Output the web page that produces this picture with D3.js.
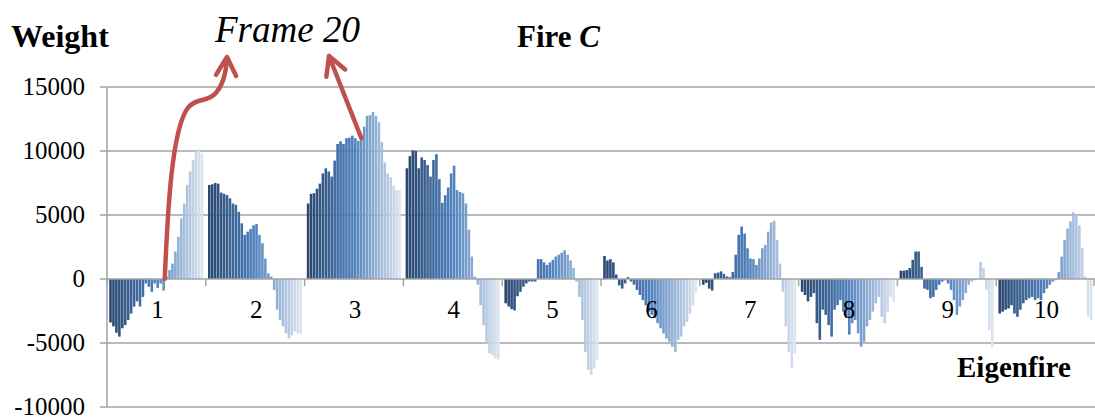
<!DOCTYPE html>
<html>
<head>
<meta charset="utf-8">
<script src="https://cdn.jsdelivr.net/npm/d3@7"></script>
<style>
  html, body { margin: 0; padding: 0; background: #fff; }
  svg { display: block; }
  text { font-family: "Liberation Serif", "Times New Roman", serif; fill: #000; }
</style>
</head>
<body>
<svg id="chart" width="1095" height="418"></svg>
<script>
// Eigenfire categories and tick values
const categories = ["1", "2", "3", "4", "5", "6", "7", "8", "9", "10"];
const yTicks = [-10000, -5000, 0, 5000, 10000, 15000];
const frameCount = 32;

// Weight of every frame (1..32) for each eigenfire
const eig1 = [-3400,-3700,-4200,-4500,-3850,-3600,-3200,-2700,-2150,-1750,-2150,-1400,-350,-600,-1000,-350,-700,-350,-900,200,700,1200,2150,3300,4750,5900,7350,8400,9300,9950,10150,9800];
const eig2 = [7350,7400,7500,7450,6750,6650,6550,6300,5900,5800,5250,4350,3450,3700,3900,4200,4300,3450,2800,1600,450,200,-850,-2400,-3200,-3700,-4250,-4650,-4400,-4100,-4250,-4300];
const eig3 = [5900,6650,6700,7050,7450,8250,8650,8400,8000,9250,10550,10750,10550,11000,11050,11200,11000,10800,11000,11900,12750,12800,13050,12750,12250,10700,9100,8250,7950,7300,6950,6950];
const eig4 = [8650,9600,10050,10000,8650,9500,9300,8900,8000,9300,9750,7800,5950,6550,7150,8250,8850,6950,6800,6700,5900,3850,1750,200,-450,-2050,-3600,-5000,-5800,-5950,-6200,-6300];
const eig5 = [-1900,-2150,-2350,-2450,-1350,-1000,-600,-350,-200,-200,-200,1550,1550,1300,1100,1300,1500,1750,1900,2050,2250,1900,1450,850,-200,-1400,-3200,-5700,-7100,-7500,-7000,-6300];
const eig6 = [1800,1450,1550,1300,350,-500,-750,-350,150,-200,-450,-850,-1250,-1650,-2050,-2550,-2800,-3050,-3450,-3850,-4250,-4650,-4900,-5300,-5700,-4750,-4500,-3700,-3350,-2700,-2050,-1100];
const eig7 = [-450,-300,-750,-900,450,500,600,400,200,150,550,1900,3450,4100,3550,2400,1600,1550,1100,1600,2400,2650,3700,4400,4550,3050,1200,-1000,-3700,-5700,-7000,-5800];
const eig8 = [-1000,-1250,-1750,-1400,-1100,-3450,-4750,-2400,-2800,-3600,-4500,-2400,-2050,-1650,-2550,-3050,-4350,-3450,-3200,-4250,-5300,-4900,-3700,-3200,-2550,-1900,-1400,-2950,-3450,-2550,-1400,-1800];
const eig9 = [650,650,700,850,1500,2150,2150,950,-750,-850,-1500,-1400,-850,-450,-200,-100,-350,-850,-1650,-2800,-2150,-1650,-1100,-450,-200,-100,50,1350,850,-850,-4000,-5300];
const eig10 = [-2700,-2550,-2400,-2300,-2050,-2700,-2950,-2400,-1900,-1650,-1500,-1400,-1650,-1500,-1650,-1100,-750,-450,-200,-100,550,1750,3050,3950,4500,5200,5000,4200,2400,200,-2950,-3200];

const weights = [eig1, eig2, eig3, eig4, eig5, eig6, eig7, eig8, eig9, eig10];
const frames = d3.range(frameCount);

const svg = d3.select("#chart");
const plot = { left: 107, right: 1095, top: 87, bottom: 407 };

const x0 = d3.scaleBand().domain(categories).range([plot.left, plot.right]).padding(0);
const x1 = d3.scaleBand().domain(frames).range([0, x0.bandwidth()]).paddingOuter(0.75).paddingInner(0);
const y = d3.scaleLinear().domain([-10000, 15000]).range([plot.bottom, plot.top]);

// Frame colours run from dark navy through the mid blue to a pale tint
const colour = d3.piecewise(d3.interpolateRgb, ["#2a4870", "#4f81bd", "#dce4f0"]);
const frameColour = i => colour(i / (frameCount - 1));

const gridColour = "#a3a3a3";

// Horizontal gridlines with outward tick marks on the value axis
svg.append("g")
  .selectAll("line")
  .data(yTicks.filter(t => t !== 0))
  .join("line")
  .attr("x1", plot.left - 7)
  .attr("x2", plot.right)
  .attr("y1", d => y(d))
  .attr("y2", d => y(d))
  .attr("stroke", gridColour)
  .attr("stroke-width", 1.5);

// Bars
const groups = svg.append("g")
  .selectAll("g")
  .data(categories.map((c, i) => ({ cat: c, values: weights[i] })))
  .join("g")
  .attr("transform", d => `translate(${x0(d.cat)},0)`);

groups.selectAll("rect")
  .data(d => d.values.map((v, i) => ({ i, v })))
  .join("rect")
  .attr("x", d => x1(d.i))
  .attr("width", x1.bandwidth() - 0.35)
  .attr("y", d => y(Math.max(0, d.v)))
  .attr("height", d => Math.abs(y(d.v) - y(0)))
  .attr("fill", d => frameColour(d.i));

// Value axis line
svg.append("line")
  .attr("x1", plot.left).attr("x2", plot.left)
  .attr("y1", plot.top).attr("y2", plot.bottom)
  .attr("stroke", gridColour).attr("stroke-width", 1.5);

// Category axis sits on zero, with ticks at the group boundaries
svg.append("line")
  .attr("x1", plot.left - 7).attr("x2", plot.right)
  .attr("y1", y(0)).attr("y2", y(0))
  .attr("stroke", gridColour).attr("stroke-width", 1.5);

svg.append("g")
  .selectAll("line")
  .data(categories.map(c => x0(c)).concat([plot.right - 1]))
  .join("line")
  .attr("x1", d => d).attr("x2", d => d)
  .attr("y1", y(0)).attr("y2", y(0) + 7)
  .attr("stroke", gridColour).attr("stroke-width", 1.5);

// Value tick labels
svg.append("g")
  .selectAll("text")
  .data(yTicks)
  .join("text")
  .attr("x", 85)
  .attr("y", d => y(d) + 8)
  .attr("text-anchor", "end")
  .attr("font-size", 25)
  .text(d => d);

// Category labels just below the zero line
svg.append("g")
  .selectAll("text")
  .data(categories)
  .join("text")
  .attr("x", d => x0(d) + x0.bandwidth() / 2 + 1)
  .attr("y", 318)
  .attr("text-anchor", "middle")
  .attr("font-size", 25)
  .text(d => d);

// Titles
svg.append("text")
  .attr("x", 11).attr("y", 47)
  .attr("font-size", 32).attr("font-weight", "bold")
  .text("Weight");

const fire = svg.append("text")
  .attr("x", 517).attr("y", 47)
  .attr("font-size", 31).attr("font-weight", "bold");
fire.append("tspan").text("Fire ");
fire.append("tspan").attr("font-style", "italic").text("C");

svg.append("text")
  .attr("x", 957).attr("y", 377)
  .attr("font-size", 29).attr("font-weight", "bold")
  .text("Eigenfire");

svg.append("text")
  .attr("x", 215).attr("y", 42)
  .attr("font-size", 37).attr("font-style", "italic")
  .text("Frame 20");

// Red arrows pointing from frame 20 up to its caption
const arrowColour = "#c0504d";
const frameIdx = 19;
const ax1 = x0("1") + x1(frameIdx) + x1.bandwidth() / 2 - 2;
const ay1 = y(0);
const tip1 = [227, 57];

svg.append("path")
  .attr("d", `M${ax1},${ay1} C${ax1 + 3},210 ${ax1 + 7},130 ${ax1 + 23},108 C${ax1 + 31},98 ${ax1 + 41},102 ${ax1 + 49},95 C${ax1 + 57},88 ${tip1[0] - 1},74 ${tip1[0]},${tip1[1] + 1}`)
  .attr("fill", "none").attr("stroke", arrowColour)
  .attr("stroke-width", 4.5).attr("stroke-linecap", "round");

const ax2 = x0("3") + x1(frameIdx - 1) + x1.bandwidth() / 2;
const ay2 = y(eig3[frameIdx - 1]);
const tip2 = [329, 56];

svg.append("line")
  .attr("x1", ax2).attr("y1", ay2)
  .attr("x2", tip2[0]).attr("y2", tip2[1])
  .attr("stroke", arrowColour).attr("stroke-width", 4.5).attr("stroke-linecap", "round");

function arrowHead(tip, dir, len, ang) {
  const n = Math.hypot(dir[0], dir[1]);
  const ux = dir[0] / n, uy = dir[1] / n;
  const rot = a => [tip[0] - len * (ux * Math.cos(a) - uy * Math.sin(a)),
                    tip[1] - len * (ux * Math.sin(a) + uy * Math.cos(a))];
  const a = rot(ang), b = rot(-ang);
  svg.append("path")
    .attr("d", `M${a[0]},${a[1]} L${tip[0]},${tip[1]} L${b[0]},${b[1]}`)
    .attr("fill", "none").attr("stroke", arrowColour)
    .attr("stroke-width", 4.5).attr("stroke-linecap", "round").attr("stroke-linejoin", "round");
}
arrowHead(tip1, [0.05, -1], 21, 0.5);
arrowHead(tip2, [tip2[0] - ax2, tip2[1] - ay2], 21, 0.5);
</script>
</body>
</html>
